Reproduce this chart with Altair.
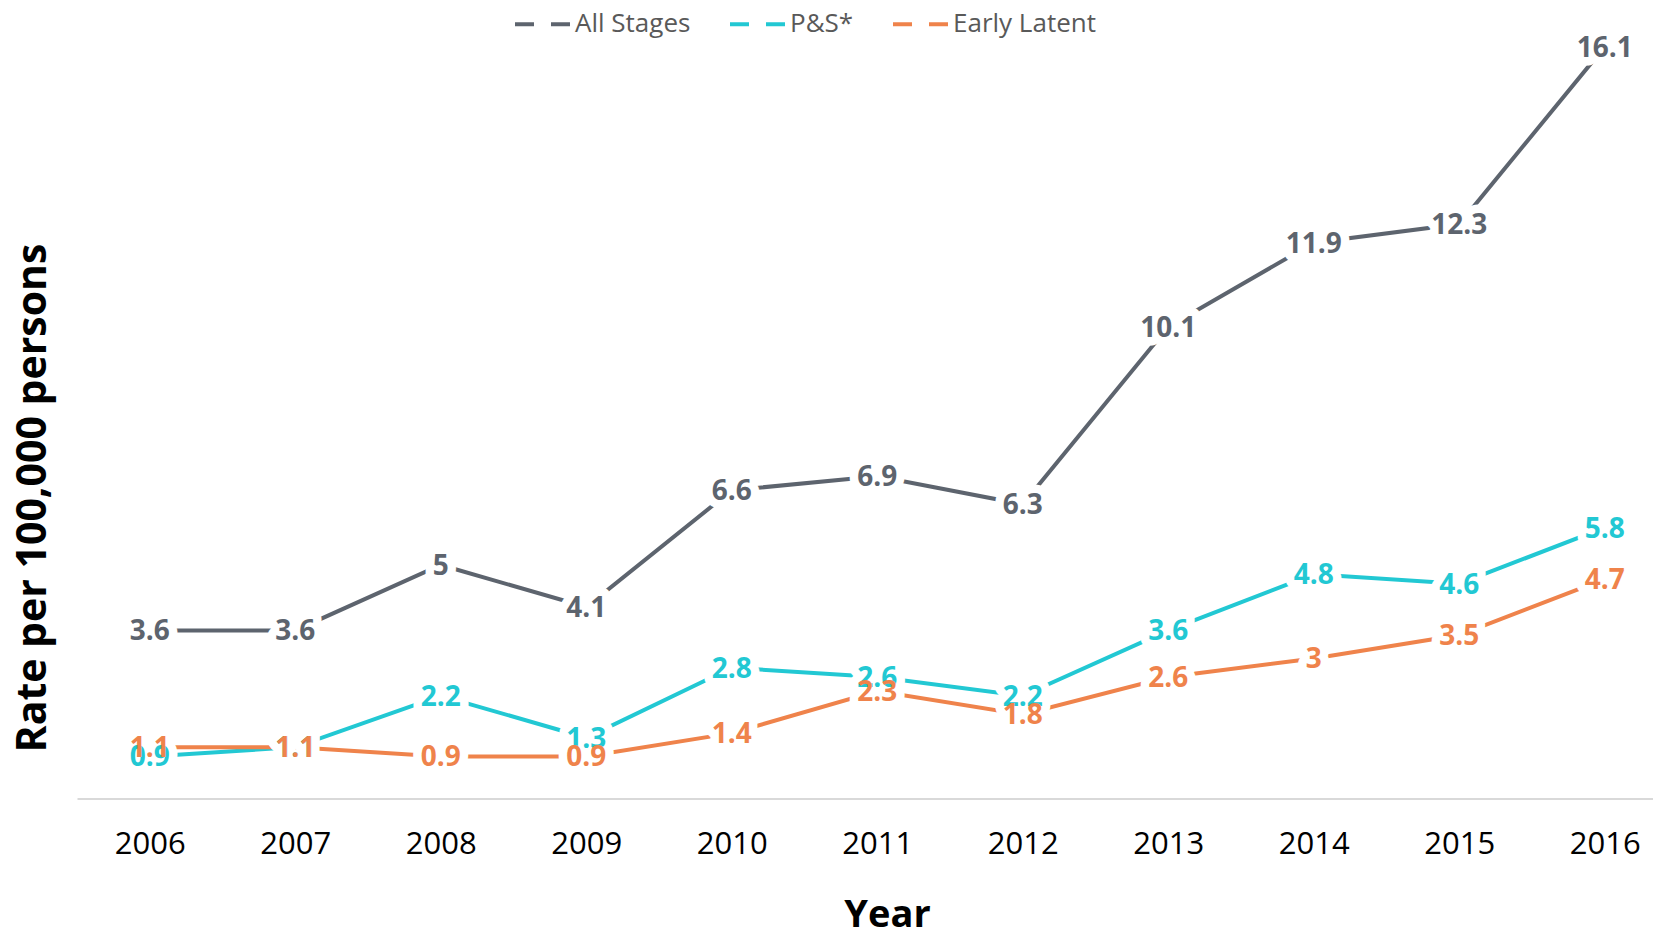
import altair as alt
import pandas as pd

years = [2006, 2007, 2008, 2009, 2010, 2011, 2012, 2013, 2014, 2015, 2016]
series_names = ["All Stages", "P&S*", "Early Latent"]
all_stages = [3.6, 3.6, 5, 4.1, 6.6, 6.9, 6.3, 10.1, 11.9, 12.3, 16.1]
ps = [0.9, 1.1, 2.2, 1.3, 2.8, 2.6, 2.2, 3.6, 4.8, 4.6, 5.8]
early_latent = [1.1, 1.1, 0.9, 0.9, 1.4, 2.3, 1.8, 2.6, 3, 3.5, 4.7]
colors = ["#5d646e", "#22c8d3", "#ef834b"]

rows = []
for name, vals in zip(series_names, [all_stages, ps, early_latent]):
    for y, v in zip(years, vals):
        rows.append({"Year": y, "Series": name, "Rate": v, "Label": f"{v:g}"})
df = pd.DataFrame(rows)

W = 1576
H = 780
step = 145.5
x_dom = [2005.5, 2005.5 + W / step]
y_max = H / 46.7

FONT = "Open Sans"

x_enc = alt.X(
    "Year:Q",
    scale=alt.Scale(domain=x_dom, nice=False, zero=False),
    axis=alt.Axis(
        values=years,
        format="d",
        title="Year",
        grid=False,
        ticks=False,
        domain=True,
        domainColor="#d9d9d9",
        domainWidth=2,
        labelFont=FONT,
        labelFontSize=31,
        labelColor="#000000",
        labelPadding=31,
        labelFlush=False,
        titleFont=FONT,
        titleFontSize=38,
        titleFontWeight="bold",
        titleColor="#000000",
        titleX=810,
        titleY=128,
        titleAlign="center",
        titleBaseline="alphabetic",
    ),
)
y_enc = alt.Y(
    "Rate:Q",
    scale=alt.Scale(domain=[0, y_max], nice=False),
    axis=alt.Axis(
        title="Rate per 100,000 persons",
        grid=False,
        ticks=False,
        domain=False,
        labels=False,
        titleFont=FONT,
        titleFontSize=41,
        titleFontWeight="bold",
        titleColor="#000000",
        titleX=-44,
        titleY=479,
        titleAlign="center",
        titleBaseline="middle",
        titleAngle=270,
    ),
)
color_enc = alt.Color(
    "Series:N",
    scale=alt.Scale(domain=series_names, range=colors),
    sort=series_names,
    legend=alt.Legend(
        title=None,
        orient="none",
        direction="horizontal",
        legendX=436,
        legendY=-24,
        symbolType="stroke",
        symbolSize=3025,
        symbolStrokeWidth=4,
        symbolDash=[19, 17],
        labelFont=FONT,
        labelFontSize=26,
        labelColor="#595959",
        labelOffset=3,
        columnPadding=31,
    ),
)

base = alt.Chart(df)

lines = base.mark_line(strokeWidth=4).encode(x=x_enc, y=y_enc, color=color_enc)

halo = base.mark_text(
    font=FONT, fontSize=28, fontWeight="bold", stroke="white", strokeWidth=17,
    strokeJoin="round", fill="white", align="center", baseline="middle", dy=2,
).encode(x=x_enc, y=y_enc, text="Label:N")

labels = base.mark_text(
    font=FONT, fontSize=28, fontWeight="bold", align="center", baseline="middle", dy=2,
).encode(
    x=x_enc, y=y_enc, text="Label:N",
    color=alt.Color("Series:N", scale=alt.Scale(domain=series_names, range=colors), legend=None),
)

chart = alt.layer(lines, halo, labels).properties(
    width=W,
    height=H,
    padding={"left": 69, "top": 10.5, "right": 0, "bottom": 128.5},
    autosize=alt.AutoSizeParams(type="none"),
    background="white",
).configure_view(stroke=None)

chart.save("out.html", embed_options={"renderer": "svg", "actions": False})
